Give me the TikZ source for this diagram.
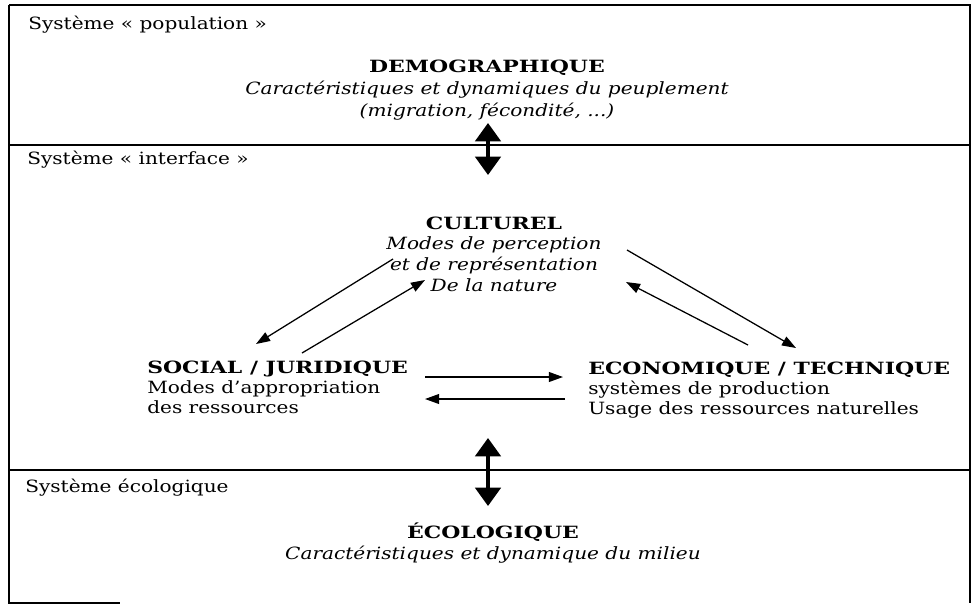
\documentclass[tikz,border=0pt]{standalone}
\usepackage{fontspec}
\setmainfont{Liberation Serif}
\newfontfamily\bookfont[FakeStretch=1.19, BoldFeatures={FakeStretch=1.3}]{DejaVu Serif}
\usetikzlibrary{arrows.meta}
\tikzset{
  frame/.style={line width=1.2pt},
  syslabel/.style={anchor=west, inner sep=0pt, font=\bookfont\fontsize{12}{14}\selectfont},
  pole/.style={inner sep=0pt, align=center, font=\bookfont\fontsize{12}{14.7}\selectfont},
  ipole/.style={inner sep=0pt, font=\bookfont\fontsize{12}{14.2}\selectfont},
  bigarrow/.style={line width=2.5pt, {Triangle[width=18pt,length=13pt]}-{Triangle[width=18pt,length=13pt]}},
  link/.style={line width=0.9pt, -{Triangle[width=7pt,length=10pt]}}
}
\begin{document}
\begin{tikzpicture}[x=0.025cm,y=-0.025cm]
\useasboundingbox (0,0) rectangle (972,606);
% cadre et separations
\draw[frame] (9,5) -- (970,5) -- (970,603);
\draw[frame] (9,5) -- (9,603) -- (120,603);
\draw[frame] (9,145) -- (970,145);
\draw[frame] (9,470) -- (970,470);
% titres des systemes
\node[syslabel] (popsys) at (28,25) {Système « population »};
\node[syslabel] (intsys) at (27,160) {Système « interface »};
\node[syslabel] (ecosys) at (25,488) {Système écologique};
% poles
\node[pole, font=\bookfont\fontsize{12}{15.5}\selectfont] (demo) at (487,90) {\textbf{DEMOGRAPHIQUE}\\
  \textit{Caractéristiques et dynamiques du peuplement}\\
  \textit{(migration, fécondité, ...)}};
\node[pole] (cult) at (494,254) {\textbf{CULTUREL}\\
  \textit{Modes de perception}\\
  \textit{et de représentation}\\
  \textit{De la nature}};
\node[ipole, align=left, anchor=west] (soc) at (147,387) {\textbf{SOCIAL / JURIDIQUE}\\
  Modes d’appropriation\\
  des ressources};
\node[ipole, align=left, anchor=west] (econ) at (588,390) {\textbf{ECONOMIQUE / TECHNIQUE}\\
  systèmes de production\\
  Usage des ressources naturelles};
\node[pole] (ecolo) at (493,543) {\textbf{ÉCOLOGIQUE}\\
  \textit{Caractéristiques et dynamique du milieu}};
% extremites des fleches
\coordinate (demo-b) at (488,123);
\coordinate (cult-t) at (488,175);
\coordinate (soc-t) at (488,438);
\coordinate (ecolo-t) at (488,506);
\coordinate (cl1) at (393,259);
\coordinate (sc1) at (256,344);
\coordinate (sc2) at (302,353);
\coordinate (cl2) at (425,280);
\coordinate (cr1) at (627,250);
\coordinate (ec1) at (796,348);
\coordinate (ec2) at (748,345);
\coordinate (cr2) at (626,282);
\coordinate (se1) at (425,377);
\coordinate (es1) at (563,377);
\coordinate (es2) at (565,399);
\coordinate (se2) at (425,399);
% fleches
\draw[bigarrow] (demo-b) -- (cult-t);
\draw[bigarrow] (soc-t) -- (ecolo-t);
\draw[link] (cl1) -- (sc1);
\draw[link] (sc2) -- (cl2);
\draw[link] (cr1) -- (ec1);
\draw[link] (ec2) -- (cr2);
\draw[link] (se1) -- (es1);
\draw[link] (es2) -- (se2);
\end{tikzpicture}
\end{document}
